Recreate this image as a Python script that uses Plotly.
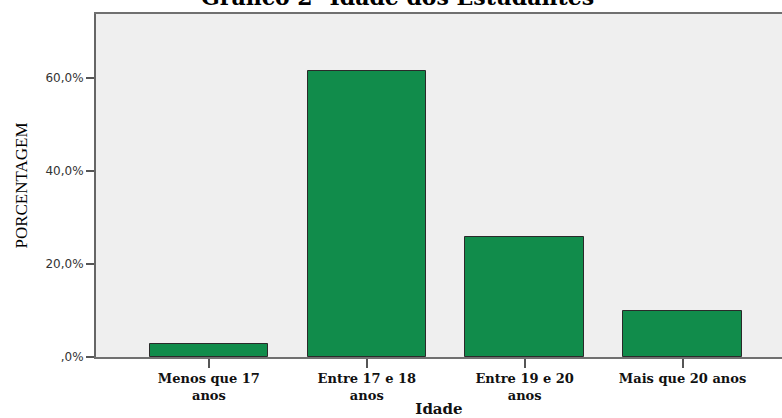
import plotly.graph_objects as go

categories = ["Menos que 17<br>anos", "Entre 17 e 18<br>anos", "Entre 19 e 20<br>anos", "Mais que 20 anos"]
percentages = [2.8, 61.5, 25.8, 9.9]
y_tickvals = [0, 20, 40, 60]
y_ticktext = [",0%", "20,0%", "40,0%", "60,0%"]

title_text = "Gráfico 2- Idade dos Estudantes"
x_title = "Idade"
y_title = "PORCENTAGEM"

fig = go.Figure()
fig.add_trace(go.Bar(
    x=list(range(len(categories))),
    y=percentages,
    width=0.75,
    marker=dict(color="#118C4B", line=dict(color="#2a2a2a", width=1)),
    hoverinfo="skip",
))

fig.update_layout(
    width=782, height=418,
    margin=dict(l=96, r=0, t=14, b=61),
    paper_bgcolor="white",
    plot_bgcolor="#EFEFEF",
    showlegend=False,
    bargap=0,
    annotations=[dict(
        text="<b>" + title_text + "</b>",
        xref="paper", yref="paper", x=0.44, y=1,
        xanchor="center", yanchor="bottom", yshift=2,
        showarrow=False,
        font=dict(family="DejaVu Serif", size=22, color="black"),
    )],
)

fig.update_xaxes(
    range=[-0.715, 3.63],
    tickmode="array",
    tickvals=list(range(len(categories))),
    ticktext=["<b>" + c.replace("<br>", "</b><br><b>") + "</b>" for c in categories],
    ticks="outside", ticklen=9, tickwidth=1.5, tickcolor="#555555",
    tickfont=dict(family="DejaVu Serif", size=13, color="#111111"),
    showline=True, linecolor="#707070", linewidth=1.5, mirror=True,
    showgrid=False, zeroline=False,
    title=dict(text="<b>" + x_title + "</b>", standoff=4,
               font=dict(family="DejaVu Serif", size=15, color="#111111")),
)

fig.update_yaxes(
    range=[0, 73.8],
    tickmode="array",
    tickvals=y_tickvals,
    ticktext=y_ticktext,
    ticks="outside", ticklen=8, tickwidth=1.5, tickcolor="#555555",
    tickfont=dict(family="DejaVu Sans", size=12, color="#333333"),
    showline=True, linecolor="#666666", linewidth=2,
    showgrid=False, zeroline=False,
    title=dict(text=y_title, standoff=14,
               font=dict(family="Liberation Serif", size=17, color="black")),
)

fig.write_html("out.html")
